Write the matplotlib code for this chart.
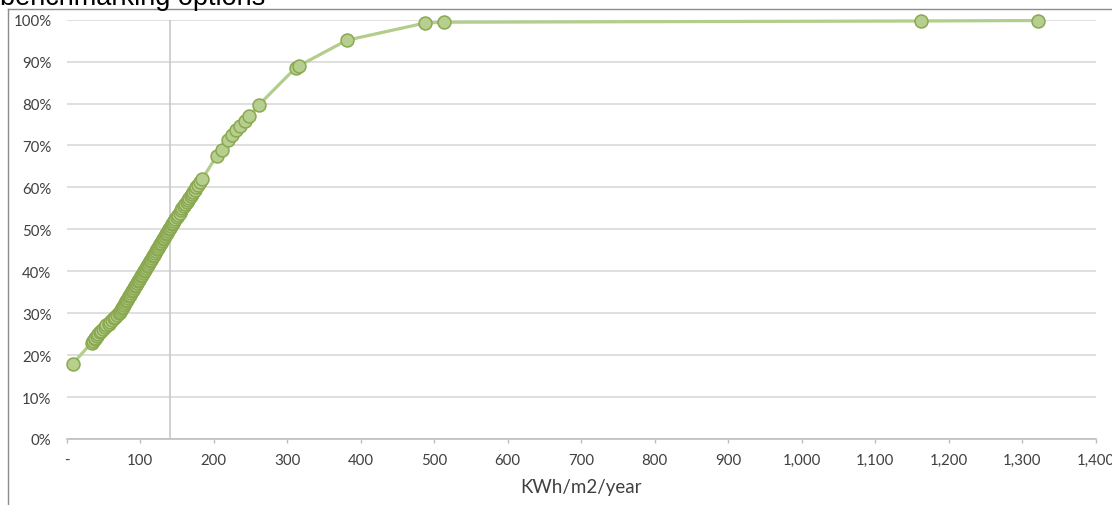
import matplotlib
matplotlib.use("Agg")
import matplotlib.pyplot as plt
from matplotlib.ticker import FuncFormatter, MultipleLocator
from matplotlib.lines import Line2D

# Energy intensity (kWh/m2/year) and cumulative share of buildings (%)
kwh = [
    8,
    34, 36, 38, 39, 41, 43, 45, 47, 50, 52, 54, 57, 59, 62, 64, 66, 69, 71,
    72, 74, 75, 76, 78, 79, 80, 82, 83, 85, 86, 87, 89, 90, 91, 93, 94, 95,
    97, 98, 100, 101, 102, 104, 105,
    106, 108, 109, 110, 112, 113, 115, 116, 117, 119, 120, 122, 123, 124,
    126, 127, 128, 130, 131, 132, 134, 135, 136, 138, 139,
    141, 142, 143, 145, 146, 148, 150, 152, 154, 156, 157, 159, 161, 163,
    165, 167, 169, 170, 172, 174, 176, 178, 181, 184,
    204, 211, 220, 224.5, 231, 236, 242.5, 248.5, 261,
    312, 316, 381, 487.5, 513.5, 1162, 1321,
]
cum_pct = [
    17.9,
    23.0, 23.4, 23.8, 24.2, 24.6, 25.0, 25.4, 25.8, 26.3, 26.7, 27.1, 27.5,
    28.0, 28.4, 28.8, 29.2, 29.6, 30.0,
    30.4, 30.8, 31.2, 31.6, 32.0, 32.4, 32.8, 33.2, 33.6, 34.0, 34.4, 34.8,
    35.2, 35.6, 36.0, 36.4, 36.8, 37.2, 37.6, 38.0, 38.4, 38.8, 39.2, 39.6,
    40.0,
    40.4, 40.8, 41.2, 41.6, 42.0, 42.4, 42.8, 43.2, 43.6, 44.0, 44.4, 44.8,
    45.2, 45.6, 46.0, 46.4, 46.8, 47.2, 47.6, 48.0, 48.4, 48.8, 49.2, 49.6,
    50.0,
    50.4, 50.8, 51.2, 51.6, 52.0, 52.5, 53.0, 53.5, 54.0, 54.5, 55.0, 55.5,
    56.0, 56.5, 57.0, 57.5, 58.0, 58.5, 59.0, 59.5, 60.0, 60.6, 61.2, 61.9,
    67.5, 69.0, 71.4, 72.6, 73.6, 74.6, 75.8, 77.0, 79.6,
    88.6, 89.0, 95.1, 99.2, 99.4, 99.7, 99.8,
]
median_kwh = 140
x_ticks = list(range(0, 1401, 100))
title = "benchmarking options"
x_label = "KWh/m2/year"

line_color = "#b3cd8b"
marker_face = "#b6cf8f"
marker_edge = "#89a84f"
grid_color = "#d9d9d9"
axis_color = "#bfbfbf"
text_color = "#404040"

fig = plt.figure(figsize=(11.12, 5.06), dpi=100)
ax = fig.add_axes([66.7 / 1112, 1 - 440 / 506, (1095.7 - 66.7) / 1112, (440 - 20.7) / 506])

ax.plot(kwh, cum_pct, color=line_color, lw=2.3, marker="o", markersize=9.3,
        markerfacecolor=marker_face, markeredgecolor=marker_edge,
        markeredgewidth=1.1, zorder=4, clip_on=False)
ax.axvline(median_kwh, color="#c8c8c8", lw=1.2, zorder=2)

ax.set_xlim(0, 1400)
ax.set_ylim(0, 100)
ax.set_xticks(x_ticks)
ax.xaxis.set_major_formatter(FuncFormatter(lambda v, p: "-" if v == 0 else f"{int(v):,}"))
ax.yaxis.set_major_locator(MultipleLocator(10))
ax.yaxis.set_major_formatter(FuncFormatter(lambda v, p: f"{int(round(v))}%"))

ax.grid(axis="y", color=grid_color, lw=1.2, zorder=1)
ax.set_axisbelow(True)
for side in ("top", "right", "left"):
    ax.spines[side].set_visible(False)
ax.spines["bottom"].set_color(axis_color)
ax.spines["bottom"].set_linewidth(1.2)

ax.tick_params(axis="x", direction="out", length=3, width=1, color=axis_color,
               labelcolor=text_color, labelsize=10.8, pad=7)
ax.tick_params(axis="y", length=0, labelcolor=text_color, labelsize=10.8, pad=11)
for lab in ax.get_xticklabels() + ax.get_yticklabels():
    lab.set_family("Lato")

ax.set_xlabel(x_label, fontsize=13.5, color=text_color, family="Lato", labelpad=8)

# Surrounding frame and heading
fig.add_artist(Line2D([7.5 / 1112, 1], [1 - 9.5 / 506] * 2, color="#8c8c8c", lw=1.0,
                      transform=fig.transFigure))
fig.add_artist(Line2D([7.5 / 1112] * 2, [0, 1 - 9.5 / 506], color="#8c8c8c", lw=1.0,
                      transform=fig.transFigure))
fig.text(0.0, 1 - 5 / 506, title, fontsize=19.5, family="Liberation Sans",
         color="black", ha="left", va="baseline")

fig.savefig("out.png", dpi=100)
